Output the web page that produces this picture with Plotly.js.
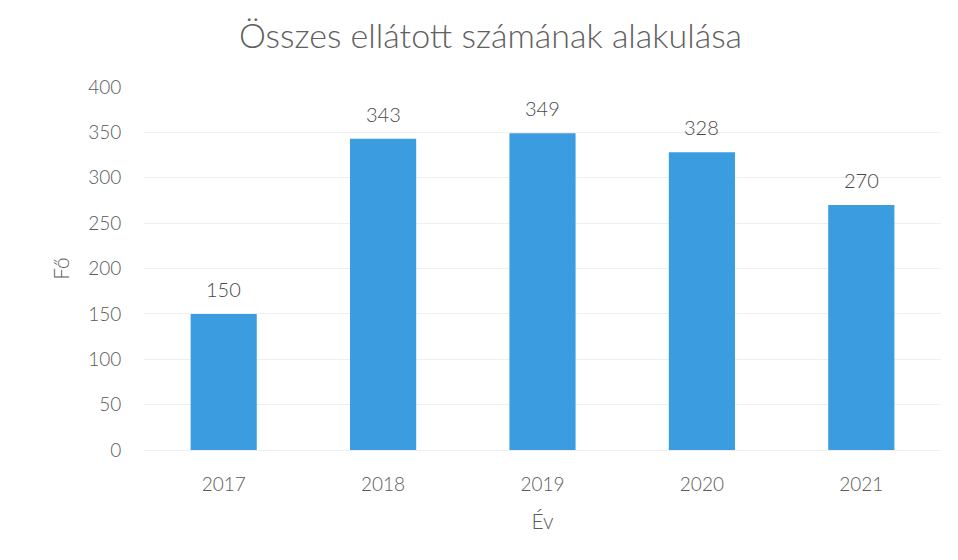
<!DOCTYPE html>
<html>
<head>
<meta charset="utf-8">
<script src="https://cdn.plot.ly/plotly-3.0.1.min.js"></script>
<style>html,body{margin:0;padding:0;background:#fff;}#chart{width:958px;height:560px;}</style>
</head>
<body>
<div id="chart"></div>
<script>
const years = ["2017", "2018", "2019", "2020", "2021"];
const values = [150, 343, 349, 328, 270];
const yTicks = [0, 50, 100, 150, 200, 250, 300, 350, 400];

const FONT = "Lato, 'Open Sans', sans-serif";

const trace = {
  type: "bar",
  x: years,
  y: values,
  marker: {color: "#3b9de0"},
  hoverinfo: "none"
};

// category axis: annotation x given as the category index
const annotations = years.map((yr, i) => ({
  x: i, y: values[i], xref: "x", yref: "y",
  text: String(values[i]), showarrow: false,
  yanchor: "bottom", yshift: 11,
  font: {family: FONT, size: 20, color: "#4a4a4a", weight: 300}
}));

const layout = {
  width: 958, height: 560,
  margin: {l: 144, r: 17, t: 87, b: 110},
  paper_bgcolor: "#ffffff",
  plot_bgcolor: "#ffffff",
  bargap: 0.585,
  showlegend: false,
  font: {family: FONT, color: "#606060", weight: 300},
  annotations: annotations,
  title: {text: "Összes ellátott számának alakulása", x: 0.512, xanchor: "center", y: 0.935, yanchor: "middle",
          font: {size: 34, color: "#606060", family: FONT, weight: 300}},
  xaxis: {
    type: "category",
    range: [-0.5, years.length - 0.5],
    tickfont: {size: 19, color: "#5a5a5a", weight: 300},
    ticks: "outside", ticklen: 17, tickcolor: "rgba(0,0,0,0)",
    showline: false, showgrid: false, zeroline: false,
    title: {text: "Év", font: {size: 21, color: "#5a5a5a", weight: 300}, standoff: 20}
  },
  yaxis: {
    range: [0, 400],
    tickvals: yTicks,
    ticktext: yTicks.map(String),
    tickfont: {size: 19, color: "#5a5a5a", weight: 300},
    ticks: "outside", ticklen: 18, tickcolor: "rgba(0,0,0,0)",
    showgrid: true, gridcolor: "#efefef", gridwidth: 1,
    zeroline: true, zerolinecolor: "#efefef",
    showline: false,
    title: {text: "Fő", font: {size: 21, color: "#5a5a5a", weight: 300}, standoff: 12}
  }
};

Plotly.newPlot("chart", [trace], layout, {displayModeBar: false, staticPlot: true});
</script>
</body>
</html>
